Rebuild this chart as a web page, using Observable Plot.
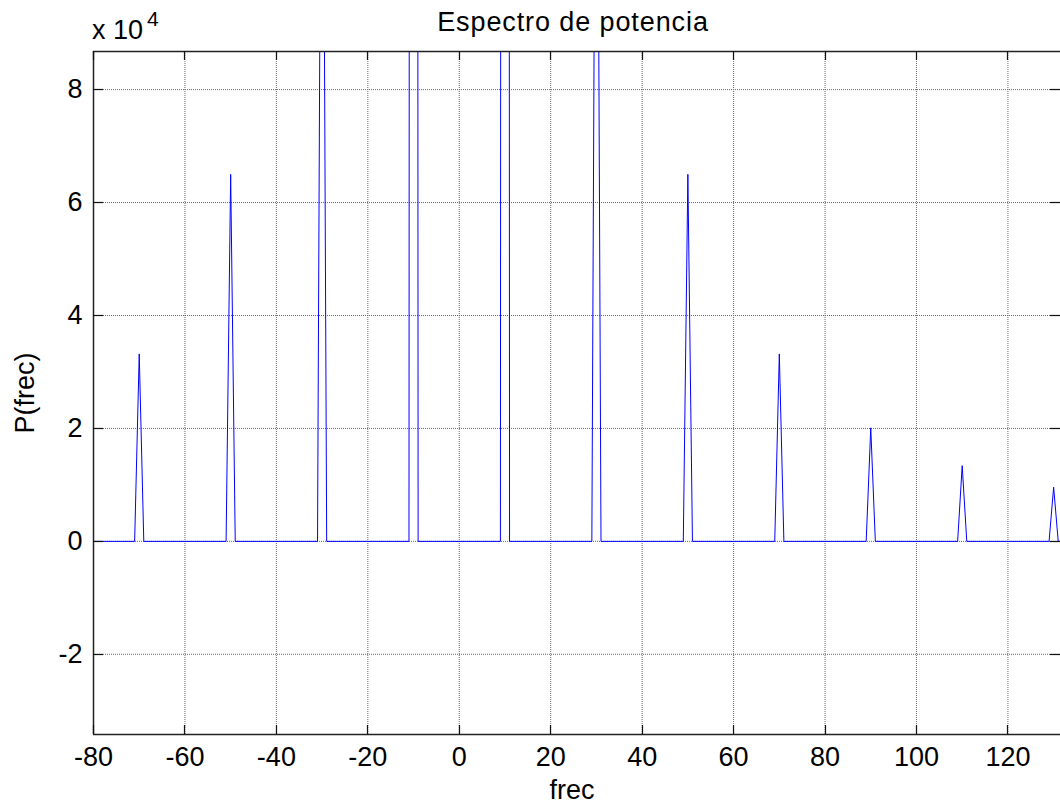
<!DOCTYPE html>
<html><head><meta charset="utf-8">
<script src="https://cdn.jsdelivr.net/npm/d3@7"></script>
<script src="https://cdn.jsdelivr.net/npm/@observablehq/plot@0.6"></script>
<style>body{margin:0;background:#fff} svg{display:block}</style>
</head><body><div id="chart"></div>
<script>
// Data: vertices of the power spectrum line
const freq  = [-80, -71, -70, -69, -51, -50, -49, -31, -30, -29, -11, -10, -9, 9, 10, 11, 29, 30, 31, 49, 50, 51, 69, 70, 71, 89, 90, 91, 109, 110, 111, 129, 130, 131, 132];
const power = [0, 0, 33200, 0, 0, 65000, 0, 0, 180500, 0, 0, 1625000, 0, 0, 1625000, 0, 0, 180500, 0, 0, 65000, 0, 0, 33200, 0, 0, 20100, 0, 0, 13400, 0, 0, 9600, 0, 0];
const xTicks = [-80, -60, -40, -20, 0, 20, 40, 60, 80, 100, 120];
const yTicks = [-20000, 0, 20000, 40000, 60000, 80000];
const yTickLabels = ["-2", "0", "2", "4", "6", "8"];
const xDomain = [-80, 131.5];
const yDomain = [-34200, 86750];
const titleText = "Espectro de potencia";
const xLabel = "frec";
const yLabel = "P(frec)";
const expBase = "x 10";
const expPow = "4";

(function () {
const data = freq.map((f, i) => ({f, p: power[i]}));
const font = "'Liberation Sans', Arial, Helvetica, sans-serif";
const fs = 27;

const chart = Plot.plot({
  width: 1060, height: 804,
  marginLeft: 93, marginRight: 0, marginTop: 51, marginBottom: 70,
  style: {fontFamily: font, fontSize: fs + "px", background: "#fff", color: "#000"},
  x: {domain: xDomain, ticks: xTicks, tickSize: 0, tickPadding: 12, label: null,
      tickFormat: d => String(d)},
  y: {domain: yDomain, ticks: yTicks, tickSize: 0, tickPadding: 11, label: null,
      tickFormat: d => yTickLabels[yTicks.indexOf(d)]},
  marks: [
    Plot.ruleX(xTicks, {stroke: "#6a6a6a", strokeWidth: 1, strokeDasharray: "1,1"}),
    Plot.ruleY(yTicks, {stroke: "#6a6a6a", strokeWidth: 1, strokeDasharray: "1,1"}),
    Plot.line(data, {x: "f", y: "p", stroke: "#0000ff", strokeWidth: 1, clip: true}),
    Plot.ruleX([xDomain[0]], {stroke: "#222", strokeWidth: 1.5}),
    Plot.ruleY([yDomain[0], yDomain[1]], {stroke: "#222", strokeWidth: 1.5})
  ]
});
document.getElementById("chart").appendChild(chart);

const svg = d3.select(chart);
svg.selectAll("g[aria-label*='axis']").attr("font-size", fs).attr("font-family", font);
svg.selectAll("g[aria-label*='axis'] text").attr("font-size", fs);

const sx = chart.scale("x"), sy = chart.scale("y");
const g = svg.append("g").attr("stroke", "#111").attr("stroke-width", 1.2);
const yTop = sy.apply(yDomain[1]), yBot = sy.apply(yDomain[0]);
const xLeft = sx.apply(xDomain[0]), xRight = sx.apply(xDomain[1]);
xTicks.forEach(t => {
  const x = Math.round(sx.apply(t)) + 0.5;
  g.append("line").attr("x1", x).attr("x2", x).attr("y1", yBot).attr("y2", yBot - 9);
  g.append("line").attr("x1", x).attr("x2", x).attr("y1", yTop).attr("y2", yTop + 9);
});
yTicks.forEach(t => {
  const y = Math.round(sy.apply(t)) + 0.5;
  g.append("line").attr("x1", xLeft).attr("x2", xLeft + 10).attr("y1", y).attr("y2", y);
  g.append("line").attr("x1", xRight).attr("x2", xRight - 10).attr("y1", y).attr("y2", y);
});

const txt = svg.append("g").attr("font-family", font).attr("fill", "#000");
txt.append("text").attr("x", 573).attr("y", 31).attr("text-anchor", "middle")
  .attr("font-size", fs).attr("letter-spacing", 0.9).text(titleText);
txt.append("text").attr("x", 572).attr("y", 799).attr("text-anchor", "middle")
  .attr("font-size", fs).text(xLabel);
txt.append("text").attr("transform", "translate(34,393) rotate(-90)").attr("text-anchor", "middle")
  .attr("font-size", fs).text(yLabel);
txt.append("text").attr("x", 92).attr("y", 39).attr("text-anchor", "start").attr("font-size", fs).text(expBase);
txt.append("text").attr("x", 147).attr("y", 26).attr("text-anchor", "start").attr("font-size", 21).text(expPow);
})();
</script>
</body></html>
